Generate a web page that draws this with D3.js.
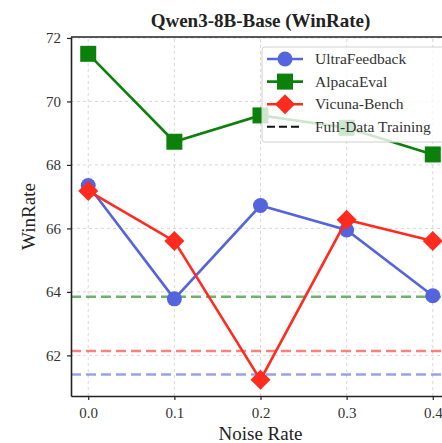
<!DOCTYPE html>
<html>
<head>
<meta charset="utf-8">
<script src="https://cdn.jsdelivr.net/npm/d3@7"></script>
<style>
  body { margin: 0; background: #fff; }
</style>
</head>
<body>
<svg id="chart"></svg>
<script>
// data
const noise_rates = [0.0, 0.1, 0.2, 0.3, 0.4];
const ultrafeedback = [67.35, 63.78, 66.72, 65.95, 63.88];
const alpacaeval = [71.5, 68.73, 69.56, 69.17, 68.33];
const vicuna = [67.18, 65.6, 61.23, 66.27, 65.6];
const full_data = { ultrafeedback: 61.4, alpacaeval: 63.85, vicuna: 62.14 };
const x_ticks = [0.0, 0.1, 0.2, 0.3, 0.4];
const y_ticks = [62, 64, 66, 68, 70, 72];

const W = 442, H = 443;
const margin = {top: 37, right: -8, bottom: 47, left: 71};
const FONT = "'Liberation Serif', 'Times New Roman', 'DejaVu Serif', serif";

const svg = d3.select('#chart').attr('width', W).attr('height', H)
    .attr('font-family', FONT);

const xscale = d3.scaleLinear().domain([-0.02, 0.42]).range([margin.left, W - margin.right]);
const yscale = d3.scaleLinear().domain([60.72, 72.03]).range([H - margin.bottom, margin.top]);

const colors = { blue: '#5464dd', green: '#0b800b', red: '#ff2b1e' };

// grid
const grid = svg.append('g');
grid.selectAll('.gx').data(x_ticks).join('line')
    .attr('x1', d => xscale(d)).attr('x2', d => xscale(d))
    .attr('y1', yscale.range()[0]).attr('y2', yscale.range()[1])
    .attr('stroke', '#d4d4d4').attr('stroke-width', 0.9).attr('stroke-dasharray', '3,3');
grid.selectAll('.gy').data(y_ticks).join('line')
    .attr('x1', xscale.range()[0]).attr('x2', xscale.range()[1])
    .attr('y1', d => yscale(d)).attr('y2', d => yscale(d))
    .attr('stroke', '#d4d4d4').attr('stroke-width', 0.9).attr('stroke-dasharray', '3,3');

// full-data baselines
const baselines = [
    {v: full_data.alpacaeval, c: colors.green},
    {v: full_data.vicuna, c: colors.red},
    {v: full_data.ultrafeedback, c: colors.blue}
];
svg.append('g').selectAll('line').data(baselines).join('line')
    .attr('x1', xscale.range()[0]).attr('x2', xscale.range()[1])
    .attr('y1', d => yscale(d.v)).attr('y2', d => yscale(d.v))
    .attr('stroke', d => d.c).attr('stroke-opacity', 0.6)
    .attr('stroke-width', 2.5).attr('stroke-dasharray', '10,5');

const line = d3.line()
    .x((d, i) => xscale(noise_rates[i]))
    .y(d => yscale(d));

const series = [
    {name: 'UltraFeedback', values: ultrafeedback, c: colors.blue, shape: 'circle'},
    {name: 'AlpacaEval', values: alpacaeval, c: colors.green, shape: 'square'},
    {name: 'Vicuna-Bench', values: vicuna, c: colors.red, shape: 'diamond'}
];

function marker(g, shape, c) {
    if (shape == 'circle') {
        g.append('circle').attr('r', 7.5).attr('fill', c);
    } else if (shape == 'square') {
        g.append('rect').attr('x', -8).attr('y', -8).attr('width', 16).attr('height', 16).attr('fill', c);
    } else {
        g.append('path').attr('d', 'M0,-10L10,0L0,10L-10,0Z').attr('fill', c);
    }
}

series.forEach(s => {
    svg.append('path')
        .attr('d', line(s.values))
        .attr('stroke', s.c)
        .attr('stroke-width', 2.6)
        .attr('fill', 'none');
    s.values.forEach((v, i) => {
        const g = svg.append('g')
            .attr('transform', `translate(${xscale(noise_rates[i])}, ${yscale(v)})`);
        marker(g, s.shape, s.c);
    });
});

// axes
const xaxis = d3.axisBottom(xscale).tickValues(x_ticks).tickFormat(d3.format('.1f')).tickSize(4).tickSizeOuter(0);
const yaxis = d3.axisLeft(yscale).tickValues(y_ticks).tickFormat(d3.format('d')).tickSize(4).tickSizeOuter(0);

const xg = svg.append('g').attr('transform', `translate(0, ${yscale.range()[0]})`).call(xaxis);
const yg = svg.append('g').attr('transform', `translate(${xscale.range()[0]}, 0)`).call(yaxis);
[xg, yg].forEach(g => {
    g.attr('font-family', FONT).attr('font-size', 15);
    g.select('.domain').attr('stroke', '#222').attr('stroke-width', 1.6);
    g.selectAll('.tick line').attr('stroke', '#222').attr('stroke-width', 1.2);
    g.selectAll('.tick text').attr('fill', '#333');
});
xg.selectAll('.tick text').attr('dy', '0.9em').attr('y', 8);
yg.selectAll('.tick text').attr('x', -10);

// top spine
svg.append('line')
    .attr('x1', xscale.range()[0]).attr('x2', xscale.range()[1])
    .attr('y1', yscale.range()[1]).attr('y2', yscale.range()[1])
    .attr('stroke', '#222').attr('stroke-width', 1.6);

// titles
svg.append('text')
    .attr('x', (xscale.range()[0] + xscale.range()[1]) / 2)
    .attr('y', 27)
    .attr('text-anchor', 'middle')
    .attr('font-size', 19).attr('font-weight', 'bold').attr('fill', '#222')
    .text('Qwen3-8B-Base (WinRate)');

svg.append('text')
    .attr('x', (xscale.range()[0] + xscale.range()[1]) / 2)
    .attr('y', 440)
    .attr('text-anchor', 'middle')
    .attr('font-size', 19).attr('fill', '#222')
    .text('Noise Rate');

svg.append('text')
    .attr('transform', `translate(35, ${(yscale.range()[0] + yscale.range()[1]) / 2}) rotate(-90)`)
    .attr('text-anchor', 'middle')
    .attr('font-size', 19).attr('fill', '#222')
    .text('WinRate');

// legend
const legend = svg.append('g').attr('transform', 'translate(262, 47)');
legend.append('rect')
    .attr('width', 200).attr('height', 95).attr('rx', 3)
    .attr('fill', '#fff').attr('fill-opacity', 0.8)
    .attr('stroke', '#d0d0d0').attr('stroke-width', 1);

const legend_items = series.map(s => ({name: s.name, c: s.c, shape: s.shape}))
    .concat([{name: 'Full-Data Training', c: '#111', shape: 'dash'}]);
legend_items.forEach((d, i) => {
    const y = 12 + i * 22.6;
    const g = legend.append('g');
    if (d.shape == 'dash') {
        g.append('line').attr('x1', 5).attr('x2', 41).attr('y1', y).attr('y2', y)
            .attr('stroke', d.c).attr('stroke-width', 2).attr('stroke-dasharray', '8,4');
    } else {
        g.append('line').attr('x1', 5).attr('x2', 41).attr('y1', y).attr('y2', y)
            .attr('stroke', d.c).attr('stroke-width', 2.6);
        const m = g.append('g').attr('transform', `translate(23, ${y})`);
        marker(m, d.shape, d.c);
    }
    g.append('text').attr('x', 53).attr('y', y + 5)
        .attr('font-size', 15.5).attr('fill', '#333')
        .text(d.name);
});
</script>
</body>
</html>
